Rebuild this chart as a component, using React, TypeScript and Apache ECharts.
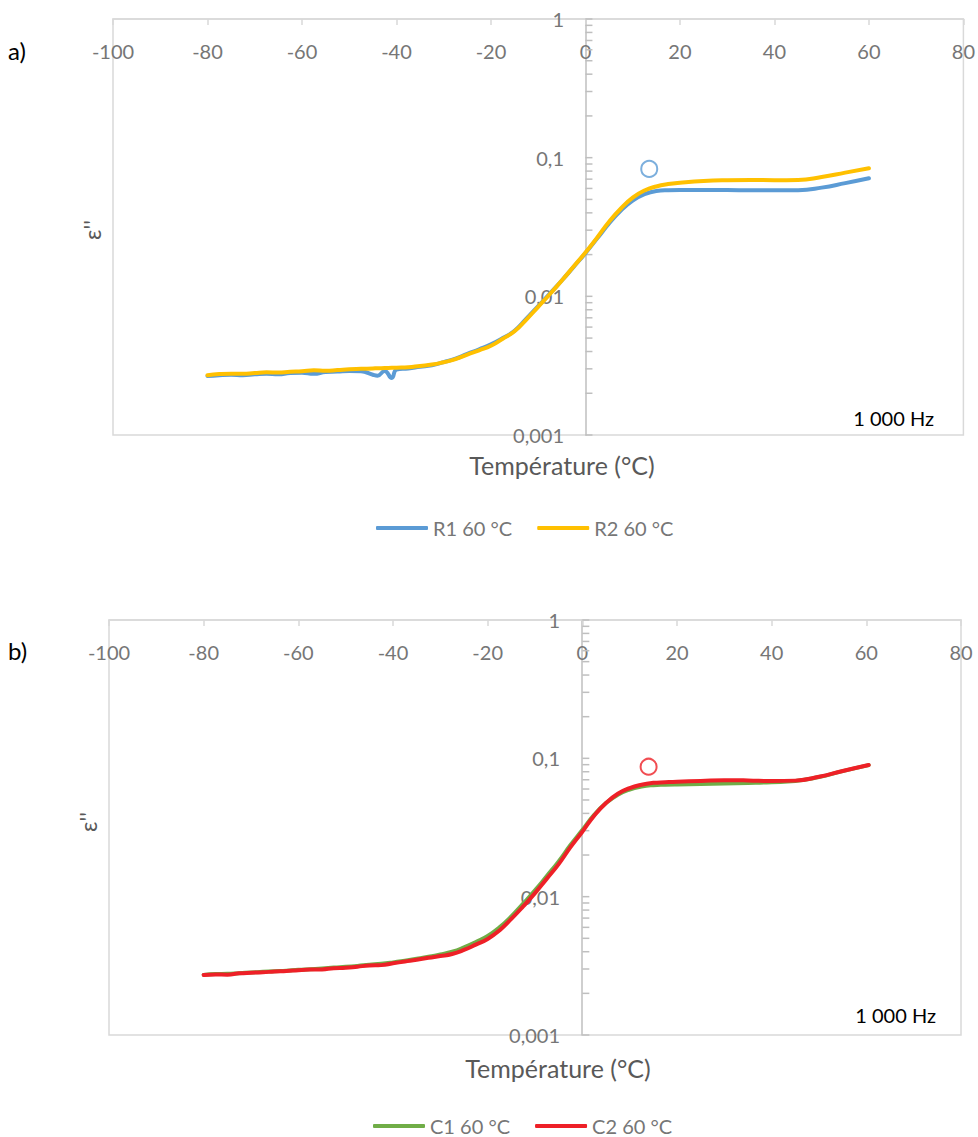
import React, { useEffect, useRef } from 'react';
import * as echarts from 'echarts';

const FONT = 'Lato, "Noto Sans", sans-serif';

// Panel a) temperatures (°C) and ε'' values
const tempA = [
  -80, -77.5, -75, -72.5, -70, -67.5, -65, -62.5, -60, -57.5, -55, -52.5, -50, -47.5, -45,
  -44, -42.5, -41, -40,
  -37.5, -35, -32.5, -30, -27.5, -25, -22.5, -20, -17.5, -15, -12.5, -10, -7.5, -5, -2.5,
  0, 2.5, 5, 7.5, 10, 12.5, 15, 17.5, 20,
  25, 30, 35, 40, 45, 50, 55, 60,
];
const r1Values = [
  0.00266, 0.0027, 0.00272, 0.0027, 0.00274, 0.00277, 0.00274, 0.0028, 0.00281, 0.00276, 0.00285, 0.00287, 0.0029, 0.00288, 0.00272,
  0.00268, 0.0029, 0.00258, 0.00296,
  0.00302, 0.0031, 0.00318, 0.00335, 0.00355, 0.00385, 0.00415, 0.0045, 0.005, 0.00565, 0.0069, 0.0085, 0.0105, 0.013, 0.0163,
  0.0205, 0.0262, 0.0335, 0.0415, 0.049, 0.0545, 0.0575, 0.0583, 0.0585,
  0.0585, 0.0584, 0.0582, 0.0581, 0.0583, 0.0608, 0.0655, 0.071,
];
const r2Values = [
  0.0027, 0.00275, 0.00277, 0.00276, 0.0028, 0.00283, 0.00282, 0.00286, 0.00288, 0.00293, 0.00291, 0.00294, 0.00298, 0.003, 0.00302,
  0.00303, 0.00304, 0.00305, 0.00306,
  0.00308, 0.00315, 0.00322, 0.00335, 0.00352, 0.0038, 0.00408, 0.0044, 0.00495, 0.0056, 0.0068, 0.0084, 0.0104, 0.013, 0.0164,
  0.0207, 0.0266, 0.0345, 0.043, 0.0515, 0.058, 0.062, 0.0645, 0.066,
  0.068, 0.0688, 0.069, 0.0688, 0.069, 0.0725, 0.078, 0.084,
];
const markerA = [[13.5, 0.083]];

// Panel b)
const tempB = [
  -80, -77.5, -75, -72.5, -70, -67.5, -65, -62.5, -60, -57.5, -55, -52.5, -50, -47.5, -45,
  -42.5, -40, -37.5, -35, -32.5, -30, -27.5, -25, -22.5, -20, -17.5, -15, -12.5, -10, -7.5,
  -5, -2.5, 0, 2.5, 5, 7.5, 10, 12.5, 15, 17.5, 20,
  25, 30, 35, 40, 45, 50, 55, 60.5,
];
const c1Values = [
  0.00272, 0.00276, 0.00277, 0.0028, 0.00283, 0.00286, 0.00289, 0.00292, 0.00296, 0.00299, 0.00302, 0.00307, 0.00311, 0.00316, 0.00322,
  0.00327, 0.00335, 0.00345, 0.00356, 0.00368, 0.00382, 0.004, 0.0043, 0.0047, 0.0052, 0.006, 0.0072, 0.0089, 0.0111, 0.0141,
  0.018, 0.0236, 0.0303, 0.039, 0.0475, 0.0545, 0.0595, 0.0625, 0.064, 0.0645, 0.0648,
  0.0652, 0.0658, 0.0664, 0.0672, 0.0685, 0.0732, 0.0808, 0.0893,
];
const c2Values = [
  0.00272, 0.00274, 0.00273, 0.00279, 0.00282, 0.00284, 0.00288, 0.0029, 0.00294, 0.00297, 0.00298, 0.00304, 0.00306, 0.00312, 0.00318,
  0.0032, 0.0033, 0.0034, 0.0035, 0.00362, 0.00372, 0.00385, 0.00412, 0.0045, 0.00495, 0.0057, 0.0069, 0.0085, 0.0106, 0.0135,
  0.0172, 0.0228, 0.0295, 0.0385, 0.0475, 0.0555, 0.061, 0.0645, 0.0665, 0.0672, 0.0678,
  0.0686, 0.0695, 0.0692, 0.0685, 0.069, 0.0735, 0.081, 0.0895,
];
const markerB = [[14, 0.087]];

// Axis ticks
const xMin = -100;
const xMax = 80;
const xStep = 20;
const yMin = 0.001;
const yMax = 1;
const yTickValues = [
  0.001, 0.002, 0.003, 0.004, 0.005, 0.006, 0.007, 0.008, 0.009,
  0.01, 0.02, 0.03, 0.04, 0.05, 0.06, 0.07, 0.08, 0.09,
  0.1, 0.2, 0.3, 0.4, 0.5, 0.6, 0.7, 0.8, 0.9, 1,
];
const yLabelMap: Record<string, string> = { '0': '1', '-1': '0,1', '-2': '0,01', '-3': '0,001' };

const seriesNamesA = ['R1 60 °C', 'R2 60 °C'];
const seriesNamesB = ['C1 60 °C', 'C2 60 °C'];

const GRAY = '#767676';
const GRID_W = 852;
// distance from the grid's left edge to x = 0 (y axis crosses there)
const Y_AXIS_OFFSET = -Math.round(((0 - xMin) / (xMax - xMin)) * GRID_W);

function zip(xs: number[], ys: number[]) {
  return xs.map((x, i) => [x, ys[i]]);
}

function xAxisFor(gridIndex: number) {
  return {
    type: 'value',
    gridIndex,
    position: 'top',
    min: xMin,
    max: xMax,
    interval: xStep,
    axisLine: { onZero: false, lineStyle: { color: '#d9d9d9', width: 1.5 } },
    axisTick: { show: true, inside: true, length: 6, lineStyle: { color: '#d9d9d9', width: 1.5 } },
    axisLabel: { inside: true, margin: 22, fontSize: 20, color: GRAY, fontFamily: FONT },
    splitLine: { show: false },
  };
}

function yAxisFor(gridIndex: number) {
  return {
    type: 'log',
    logBase: 10,
    gridIndex,
    position: 'left',
    offset: Y_AXIS_OFFSET,
    min: yMin,
    max: yMax,
    axisLine: { show: true, onZero: false, lineStyle: { color: '#bfbfbf', width: 1.5 } },
    axisTick: { show: false },
    axisLabel: {
      margin: 22,
      fontSize: 20,
      color: GRAY,
      fontFamily: FONT,
      formatter: (v: number) => yLabelMap[String(Math.round(Math.log10(v)))] ?? '',
    },
    splitLine: { show: false },
  };
}

function tickSeries(idx: number) {
  return {
    type: 'custom',
    xAxisIndex: idx,
    yAxisIndex: idx,
    silent: true,
    z: 1,
    data: yTickValues.map((v) => [0, v]),
    renderItem: (_p: any, api: any) => {
      const p = api.coord([0, api.value(1)]);
      return {
        type: 'line',
        shape: { x1: p[0], y1: p[1], x2: p[0] + 7, y2: p[1] },
        style: { stroke: '#bfbfbf', lineWidth: 1.5 },
      };
    },
  };
}

function lineSeries(name: string, xs: number[], ys: number[], color: string, idx: number, z: number) {
  return {
    type: 'line',
    name,
    xAxisIndex: idx,
    yAxisIndex: idx,
    data: zip(xs, ys),
    showSymbol: false,
    symbol: 'none',
    smooth: 0.5,
    z,
    lineStyle: { color, width: 4, cap: 'round', join: 'round' },
    itemStyle: { color },
  };
}

function markerSeries(data: number[][], color: string, idx: number) {
  return {
    type: 'scatter',
    xAxisIndex: idx,
    yAxisIndex: idx,
    data,
    symbol: 'circle',
    symbolSize: 16,
    z: 5,
    itemStyle: { color: 'rgba(0,0,0,0)', borderColor: color, borderWidth: 2 },
  };
}

function legendFor(names: string[], left: number, top: number) {
  return {
    data: names,
    left,
    top,
    padding: 0,
    icon: 'roundRect',
    itemWidth: 52,
    itemHeight: 4,
    itemGap: 25,
    textStyle: { fontSize: 20, color: GRAY, fontFamily: FONT, lineHeight: 20 },
  };
}

const option: any = {
  animation: false,
  backgroundColor: '#ffffff',
  textStyle: { fontFamily: FONT },
  grid: [
    { left: 113, top: 19, width: GRID_W, height: 416, show: true, borderColor: '#d9d9d9', borderWidth: 1.5, backgroundColor: 'transparent' },
    { left: 109, top: 620, width: GRID_W, height: 415, show: true, borderColor: '#d9d9d9', borderWidth: 1.5, backgroundColor: 'transparent' },
  ],
  xAxis: [xAxisFor(0), xAxisFor(1)],
  yAxis: [yAxisFor(0), yAxisFor(1)],
  legend: [legendFor(seriesNamesA, 376, 518), legendFor(seriesNamesB, 373, 1116)],
  series: [
    tickSeries(0),
    tickSeries(1),
    lineSeries(seriesNamesA[0], tempA, r1Values, '#5b9bd5', 0, 2),
    lineSeries(seriesNamesA[1], tempA, r2Values, '#ffc000', 0, 3),
    markerSeries(markerA, '#5b9bd5', 0),
    lineSeries(seriesNamesB[0], tempB, c1Values, '#70ad47', 1, 2),
    lineSeries(seriesNamesB[1], tempB, c2Values, '#ee2027', 1, 3),
    markerSeries(markerB, '#ee2027', 1),
  ],
  graphic: [
    { type: 'text', x: 8, y: 50, style: { text: 'a)', fontSize: 24, fill: '#000', fontFamily: FONT, textAlign: 'left', textVerticalAlign: 'middle' } },
    { type: 'text', x: 8, y: 650, style: { text: 'b)', fontSize: 24, fill: '#000', fontFamily: FONT, textAlign: 'left', textVerticalAlign: 'middle' } },
    { type: 'text', x: 92, y: 230, rotation: Math.PI / 2, style: { text: "ε''", fontSize: 23, fill: '#595959', fontFamily: FONT, textAlign: 'center', textVerticalAlign: 'middle' } },
    { type: 'text', x: 88, y: 822, rotation: Math.PI / 2, style: { text: "ε''", fontSize: 23, fill: '#595959', fontFamily: FONT, textAlign: 'center', textVerticalAlign: 'middle' } },
    { type: 'text', x: 934, y: 418, style: { text: '1 000 Hz', fontSize: 20, fill: '#000', fontFamily: FONT, textAlign: 'right', textVerticalAlign: 'middle' } },
    { type: 'text', x: 936, y: 1015, style: { text: '1 000 Hz', fontSize: 20, fill: '#000', fontFamily: FONT, textAlign: 'right', textVerticalAlign: 'middle' } },
    { type: 'text', x: 562, y: 465, style: { text: 'Température (°C)', fontSize: 25, fill: '#595959', fontFamily: FONT, textAlign: 'center', textVerticalAlign: 'middle' } },
    { type: 'text', x: 558, y: 1068, style: { text: 'Température (°C)', fontSize: 25, fill: '#595959', fontFamily: FONT, textAlign: 'center', textVerticalAlign: 'middle' } },
  ],
};

export default function App() {
  const ref = useRef<HTMLDivElement>(null);
  useEffect(() => {
    if (!ref.current) return;
    const chart = echarts.init(ref.current, null, { renderer: 'svg' });
    chart.setOption(option);
    return () => chart.dispose();
  }, []);
  return (
    <div
      ref={ref}
      style={{ position: 'absolute', left: 0, top: 0, width: 978, height: 1137, background: '#fff' }}
    />
  );
}
